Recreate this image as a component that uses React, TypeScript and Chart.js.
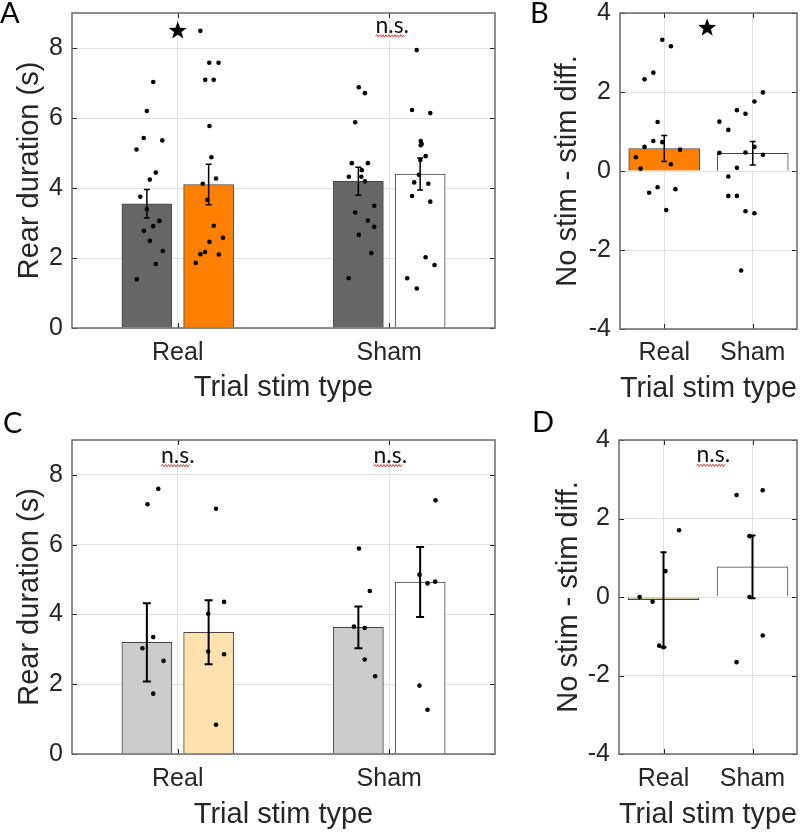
import React, { useEffect, useRef } from 'react';
import { Chart, registerables } from 'chart.js';

Chart.register(...registerables);

// ---------- data ----------
const CATEGORIES = ['Real', 'Sham'];
const DURATION_TICKS = [0, 2, 4, 6, 8];
const DIFF_TICKS = [-4, -2, 0, 2, 4];

// Panel A (bar means and s.e.m.)
const A_NOSTIM_MEAN = [3.55, 4.19];
const A_NOSTIM_SEM = [0.41, 0.4];
const A_STIM_MEAN = [4.1, 4.4];
const A_STIM_SEM = [0.58, 0.46];
// Panel A individual points (values and horizontal jitter, in category units)
const A_REAL_NOSTIM_PTS = [7.03, 6.2, 5.43, 5.1, 5.36, 4.44, 4.24, 3.75, 3.39, 3.06, 2.78, 2.91, 2.49, 2.2, 1.83, 1.39];
const A_REAL_NOSTIM_JIT = [-0.116, -0.146, -0.161, -0.195, -0.073, -0.104, -0.132, -0.177, -0.146, -0.087, -0.16, -0.116, -0.132, -0.071, -0.104, -0.194];
const A_REAL_STIM_PTS = [8.49, 7.58, 7.58, 7.09, 7.09, 5.77, 4.88, 4.27, 4.12, 3.66, 2.92, 2.46, 2.58, 2.17, 2.11, 2.1, 1.86];
const A_REAL_STIM_JIT = [0.107, 0.149, 0.193, 0.13, 0.17, 0.15, 0.159, 0.181, 0.118, 0.14, 0.17, 0.15, 0.214, 0.129, 0.107, 0.194, 0.085];
const A_SHAM_NOSTIM_PTS = [6.88, 6.71, 5.88, 4.71, 4.71, 4.32, 4.51, 4.32, 4.19, 3.49, 3.3, 3.07, 2.89, 2.66, 2.14, 1.42];
const A_SHAM_NOSTIM_JIT = [-0.144, -0.115, -0.161, -0.177, -0.101, -0.191, -0.13, -0.132, -0.115, -0.071, -0.161, -0.101, -0.071, -0.144, -0.085, -0.192];
const A_SHAM_STIM_PTS = [7.94, 6.23, 6.14, 5.34, 5.26, 5.22, 4.91, 4.8, 4.38, 4.16, 4.12, 3.77, 3.61, 2.02, 1.8, 1.42, 1.13];
const A_SHAM_STIM_JIT = [0.13, 0.108, 0.194, 0.149, 0.153, 0.149, 0.172, 0.147, 0.14, 0.118, 0.185, 0.108, 0.194, 0.172, 0.214, 0.085, 0.13];

// Panel B
const B_DIFF_MEAN = [0.57, 0.45];
const B_DIFF_SEM = [0.33, 0.3];
const B_REAL_PTS = [3.32, 3.16, 2.49, 2.32, 1.24, 0.76, 0.73, 0.61, 0.54, 0.35, 0.17, 0.06, -0.41, -0.55, -0.46, -0.99];
const B_REAL_JIT = [-0.022, 0.075, -0.123, -0.223, -0.075, -0.123, -0.022, -0.223, 0.179, -0.321, 0.075, -0.268, -0.075, -0.171, 0.126, 0.022];
const B_SHAM_PTS = [1.99, 1.76, 1.54, 1.45, 1.25, 1.04, 0.61, 0.47, 0.46, 0.41, 0.08, -0.14, -0.63, -0.63, -1.02, -1.07, -2.52];
const B_SHAM_JIT = [0.115, 0.019, -0.179, -0.082, -0.377, -0.276, 0.019, -0.082, -0.377, 0.115, -0.179, -0.276, -0.276, -0.179, -0.082, 0.019, -0.131];

// Panel C
const C_NOSTIM_MEAN = [3.2, 3.63];
const C_NOSTIM_SEM = [1.12, 0.6];
const C_STIM_MEAN = [3.49, 4.93];
const C_STIM_SEM = [0.92, 1.0];
const C_REAL_NOSTIM_PTS = [7.16, 7.6, 3.35, 3.03, 2.67, 1.73];
const C_REAL_NOSTIM_JIT = [-0.143, -0.092, -0.116, -0.167, -0.067, -0.116];
const C_REAL_STIM_PTS = [7.03, 4.36, 4.02, 2.94, 2.86, 0.84];
const C_REAL_STIM_JIT = [0.181, 0.219, 0.144, 0.144, 0.219, 0.181];
const C_SHAM_NOSTIM_PTS = [5.89, 4.67, 3.65, 3.61, 2.71, 2.23];
const C_SHAM_NOSTIM_JIT = [-0.143, -0.092, -0.167, -0.116, -0.116, -0.067];
const C_SHAM_STIM_PTS = [7.27, 5.14, 4.89, 4.94, 1.96, 1.27];
const C_SHAM_STIM_JIT = [0.219, 0.143, 0.181, 0.217, 0.143, 0.181];

// Panel D
const D_DIFF_MEAN = [-0.07, 0.77];
const D_DIFF_SEM = [1.21, 0.8];
const D_REAL_PTS = [1.7, 0.66, 0.0, -0.12, -1.24, -1.28];
const D_REAL_JIT = [0.175, 0.022, -0.268, -0.123, -0.048, 0.0];
const D_SHAM_PTS = [2.6, 2.72, 1.55, 0.0, -0.98, -1.66];
const D_SHAM_JIT = [-0.179, 0.115, -0.034, -0.034, 0.115, -0.179];

// ---------- styles ----------
const TXT = '#262626';
const GRID = '#e0e0e0';
const EDGE = '#454545';
const DARK_GRAY = '#666666';
const ORANGE = '#ff8000';
const WHITE = '#ffffff';
const LIGHT_GRAY = '#cccccc';
const LIGHT_ORANGE = '#ffe1b0';
const TAN = '#dcc49a';
const TICK_FONT = { family: '"Liberation Sans", Arial, sans-serif', size: 25, lineHeight: 1 };
const TITLE_FONT = { family: '"Liberation Sans", Arial, sans-serif', size: 29, lineHeight: 1 };
// side-by-side group layout (offset of each bar from its category centre, in category units)
const PAIR_OFFSET = 0.146;

const pts = (cat: number, jit: number[], vals: number[]) => vals.map((v, i) => ({ x: cat + jit[i], y: v }));
const bars = (means: number[], offset: number) => means.map((m, i) => ({ x: i + offset, y: m }));

const scatterDs = (data: any[]) => ({
  type: 'scatter',
  xAxisID: 'xj',
  yAxisID: 'y',
  data,
  pointRadius: 2.3,
  pointHoverRadius: 2.3,
  pointBackgroundColor: '#000',
  pointBorderWidth: 0,
  order: 1,
});

const barDs = (data: any[], errors: number[], colors: string[], thickness: number) => ({
  type: 'bar',
  xAxisID: 'xj',
  yAxisID: 'y',
  data,
  errors,
  backgroundColor: colors,
  borderColor: EDGE,
  borderWidth: 1,
  grouped: false,
  barThickness: thickness,
  order: 2,
});

// ---------- plugin: error bars, frame, inward ticks, annotations ----------
const framePlugin = {
  id: 'frame',
  afterDatasetsDraw(chart: any, _a: any, opts: any) {
    const ctx = chart.ctx;
    const ys = chart.scales.y;
    chart.data.datasets.forEach((ds: any, i: number) => {
      if (!ds.errors) return;
      const meta = chart.getDatasetMeta(i);
      meta.data.forEach((el: any, j: number) => {
        const d = ds.data[j];
        const m = typeof d === 'number' ? d : d.y;
        const e = ds.errors[j];
        const yHi = ys.getPixelForValue(m + e);
        const yLo = ys.getPixelForValue(m - e);
        const c = opts.cap;
        ctx.save();
        ctx.strokeStyle = '#000';
        ctx.lineWidth = opts.errWidth;
        ctx.beginPath();
        ctx.moveTo(el.x, yHi);
        ctx.lineTo(el.x, yLo);
        ctx.moveTo(el.x - c, yHi);
        ctx.lineTo(el.x + c, yHi);
        ctx.moveTo(el.x - c, yLo);
        ctx.lineTo(el.x + c, yLo);
        ctx.stroke();
        ctx.restore();
      });
    });
  },
  afterDraw(chart: any, _a: any, opts: any) {
    const ctx = chart.ctx;
    const { left, right, top, bottom } = chart.chartArea;
    const ys = chart.scales.y;
    const xs = chart.scales.x;
    const xj = chart.scales.xj;
    ctx.save();
    // inward ticks
    ctx.strokeStyle = TXT;
    ctx.lineWidth = 1;
    ctx.beginPath();
    ys.ticks.forEach((t: any) => {
      const y = Math.round(ys.getPixelForValue(t.value)) + 0.5;
      ctx.moveTo(left, y);
      ctx.lineTo(left + 5, y);
      ctx.moveTo(right, y);
      ctx.lineTo(right - 5, y);
    });
    CATEGORIES.forEach((_c, i) => {
      const x = Math.round(xs.getPixelForValue(i)) + 0.5;
      ctx.moveTo(x, bottom);
      ctx.lineTo(x, bottom - 5);
      ctx.moveTo(x, top);
      ctx.lineTo(x, top + 5);
    });
    ctx.stroke();
    // box
    ctx.strokeStyle = '#6a6a6a';
    ctx.lineWidth = 1.5;
    ctx.strokeRect(left, top, right - left, bottom - top);

    // annotations
    (opts.notes || []).forEach((n: any) => {
      const px = xj.getPixelForValue(n.x);
      const py = ys.getPixelForValue(n.y);
      if (n.kind === 'star') {
        const R = 9.5;
        const r = 3.9;
        ctx.fillStyle = '#000';
        ctx.beginPath();
        for (let k = 0; k < 10; k++) {
          const ang = -Math.PI / 2 + (k * Math.PI) / 5;
          const rad = k % 2 === 0 ? R : r;
          const X = px + rad * Math.cos(ang);
          const Y = py + rad * Math.sin(ang);
          if (k === 0) ctx.moveTo(X, Y);
          else ctx.lineTo(X, Y);
        }
        ctx.closePath();
        ctx.fill();
      } else {
        ctx.font = '23px Lato, "Open Sans", sans-serif';
        ctx.fillStyle = '#111';
        ctx.textAlign = 'center';
        ctx.textBaseline = 'alphabetic';
        ctx.fillText(n.text, px, py);
        const w = ctx.measureText(n.text).width;
        // red wavy underline
        ctx.strokeStyle = '#e23b3b';
        ctx.lineWidth = 1;
        ctx.beginPath();
        const x0 = px - w / 2;
        const x1 = px + w / 2 - 4;
        const yb = py + 3;
        let up = true;
        ctx.moveTo(x0, yb);
        for (let x = x0 + 1.5; x <= x1; x += 1.5) {
          ctx.lineTo(x, yb + (up ? -1.2 : 1.2));
          up = !up;
        }
        ctx.stroke();
      }
    });

    // panel letter
    if (opts.letter) {
      ctx.font = '29px Lato, "Open Sans", sans-serif';
      ctx.fillStyle = '#000';
      ctx.textAlign = 'left';
      ctx.textBaseline = 'alphabetic';
      ctx.fillText(opts.letter.text, opts.letter.x, opts.letter.y);
    }
    ctx.restore();
  },
};

interface PanelSpec {
  width: number;
  height: number;
  plotLeft: number;
  plotTop: number;
  plotRight: number;
  plotBottom: number;
  yMin: number;
  yMax: number;
  yTicks: number[];
  yTitle: string;
  yTitleX: number;
  xTitleY: number;
  xTickPad: number;
  datasets: any[];
  notes: any[];
  letter: any;
  errWidth: number;
  cap: number;
}

function buildConfig(p: PanelSpec): any {
  return {
    type: 'bar',
    data: { labels: CATEGORIES, datasets: p.datasets },
    options: {
      responsive: false,
      maintainAspectRatio: false,
      animation: false,
      events: [],
      layout: { padding: { left: 0, top: p.plotTop, right: p.width - p.plotRight, bottom: 0 } },
      plugins: {
        legend: { display: false },
        tooltip: { enabled: false },
        frame: { notes: p.notes, letter: p.letter, errWidth: p.errWidth, cap: p.cap },
      },
      scales: {
        x: {
          type: 'category',
          offset: true,
          grid: { offset: false, color: GRID, lineWidth: 1, drawTicks: false },
          border: { display: false },
          ticks: { font: TICK_FONT, color: TXT, padding: p.xTickPad, maxRotation: 0 },
          title: {
            display: true,
            text: 'Trial stim type',
            font: TITLE_FONT,
            color: TXT,
            padding: { top: 0, bottom: p.height - p.xTitleY - 14.5 },
          },
          afterFit: (s: any) => {
            s.height = p.height - p.plotBottom;
            s.paddingLeft = 0;
            s.paddingRight = 0;
          },
        },
        xj: { type: 'linear', display: false, min: -0.5, max: 1.5, offset: false },
        y: {
          type: 'linear',
          min: p.yMin,
          max: p.yMax,
          afterBuildTicks: (s: any) => {
            s.ticks = p.yTicks.map((v) => ({ value: v }));
          },
          grid: { color: GRID, lineWidth: 1, drawTicks: false },
          border: { display: false },
          ticks: { font: TICK_FONT, color: TXT, padding: 9 },
          title: {
            display: true,
            text: p.yTitle,
            font: TITLE_FONT,
            color: TXT,
            padding: { top: p.yTitleX - 14.5, bottom: 0 },
          },
          afterFit: (s: any) => {
            s.width = p.plotLeft;
            s.paddingTop = 0;
            s.paddingBottom = 0;
          },
        },
      },
    },
    plugins: [framePlugin],
  };
}

const PANEL_A: PanelSpec = {
  width: 500, height: 410, plotLeft: 72, plotTop: 13, plotRight: 495, plotBottom: 328,
  yMin: 0, yMax: 9, yTicks: DURATION_TICKS, yTitle: 'Rear duration (s)', yTitleX: 30, xTitleY: 388, xTickPad: 12.5,
  datasets: [
    scatterDs(pts(0, A_REAL_NOSTIM_JIT, A_REAL_NOSTIM_PTS)),
    scatterDs(pts(0, A_REAL_STIM_JIT, A_REAL_STIM_PTS)),
    scatterDs(pts(1, A_SHAM_NOSTIM_JIT, A_SHAM_NOSTIM_PTS)),
    scatterDs(pts(1, A_SHAM_STIM_JIT, A_SHAM_STIM_PTS)),
    barDs(bars(A_NOSTIM_MEAN, -PAIR_OFFSET), A_NOSTIM_SEM, [DARK_GRAY, DARK_GRAY], 50),
    barDs(bars(A_STIM_MEAN, PAIR_OFFSET), A_STIM_SEM, [ORANGE, WHITE], 50),
  ],
  notes: [
    { kind: 'star', x: 0, y: 8.49 },
    { kind: 'text', text: 'n.s.', x: 1.014, y: 8.43 },
  ],
  letter: { text: 'A', x: 0, y: 23 },
  errWidth: 1.5,
  cap: 3,
};

const PANEL_B: PanelSpec = {
  width: 300, height: 410, plotLeft: 120, plotTop: 13, plotRight: 297, plotBottom: 329,
  yMin: -4, yMax: 4, yTicks: DIFF_TICKS, yTitle: 'No stim - stim diff.', yTitleX: 68, xTitleY: 389, xTickPad: 12,
  datasets: [
    scatterDs(pts(0, B_REAL_JIT, B_REAL_PTS)),
    scatterDs(pts(1, B_SHAM_JIT, B_SHAM_PTS)),
    barDs(bars(B_DIFF_MEAN, 0), B_DIFF_SEM, [ORANGE, WHITE], 71),
  ],
  notes: [{ kind: 'star', x: 0.485, y: 3.62 }],
  letter: { text: 'B', x: 30, y: 23 },
  errWidth: 1.5,
  cap: 3,
};

const PANEL_C: PanelSpec = {
  width: 500, height: 423, plotLeft: 72, plotTop: 30, plotRight: 495, plotBottom: 344,
  yMin: 0, yMax: 9, yTicks: DURATION_TICKS, yTitle: 'Rear duration (s)', yTitleX: 30, xTitleY: 405, xTickPad: 13,
  datasets: [
    scatterDs(pts(0, C_REAL_NOSTIM_JIT, C_REAL_NOSTIM_PTS)),
    scatterDs(pts(0, C_REAL_STIM_JIT, C_REAL_STIM_PTS)),
    scatterDs(pts(1, C_SHAM_NOSTIM_JIT, C_SHAM_NOSTIM_PTS)),
    scatterDs(pts(1, C_SHAM_STIM_JIT, C_SHAM_STIM_PTS)),
    barDs(bars(C_NOSTIM_MEAN, -PAIR_OFFSET), C_NOSTIM_SEM, [LIGHT_GRAY, LIGHT_GRAY], 50),
    barDs(bars(C_STIM_MEAN, PAIR_OFFSET), C_STIM_SEM, [LIGHT_ORANGE, WHITE], 50),
  ],
  notes: [
    { kind: 'text', text: 'n.s.', x: 0, y: 8.35 },
    { kind: 'text', text: 'n.s.', x: 1.005, y: 8.35 },
  ],
  letter: { text: 'C', x: 3, y: 23 },
  errWidth: 2,
  cap: 4,
};

const PANEL_D: PanelSpec = {
  width: 300, height: 423, plotLeft: 119, plotTop: 30, plotRight: 297, plotBottom: 344,
  yMin: -4, yMax: 4, yTicks: DIFF_TICKS, yTitle: 'No stim - stim diff.', yTitleX: 69, xTitleY: 405, xTickPad: 13,
  datasets: [
    scatterDs(pts(0, D_REAL_JIT, D_REAL_PTS)),
    scatterDs(pts(1, D_SHAM_JIT, D_SHAM_PTS)),
    barDs(bars(D_DIFF_MEAN, 0), D_DIFF_SEM, [TAN, WHITE], 71),
  ],
  notes: [{ kind: 'text', text: 'n.s.', x: 0.56, y: 3.43 }],
  letter: { text: 'D', x: 32, y: 22 },
  errWidth: 2,
  cap: 3,
};

function Panel({ spec, left, top }: { spec: PanelSpec; left: number; top: number }) {
  const ref = useRef<HTMLCanvasElement | null>(null);
  useEffect(() => {
    if (!ref.current) return;
    const chart = new Chart(ref.current, buildConfig(spec));
    return () => chart.destroy();
  }, [spec]);
  return (
    <canvas
      ref={ref}
      width={spec.width}
      height={spec.height}
      style={{ position: 'absolute', left, top, width: spec.width, height: spec.height }}
    />
  );
}

export default function App() {
  return (
    <div style={{ position: 'absolute', left: 0, top: 0, width: 800, height: 833, background: '#fff' }}>
      <Panel spec={PANEL_A} left={0} top={0} />
      <Panel spec={PANEL_B} left={500} top={0} />
      <Panel spec={PANEL_C} left={0} top={410} />
      <Panel spec={PANEL_D} left={500} top={410} />
    </div>
  );
}
